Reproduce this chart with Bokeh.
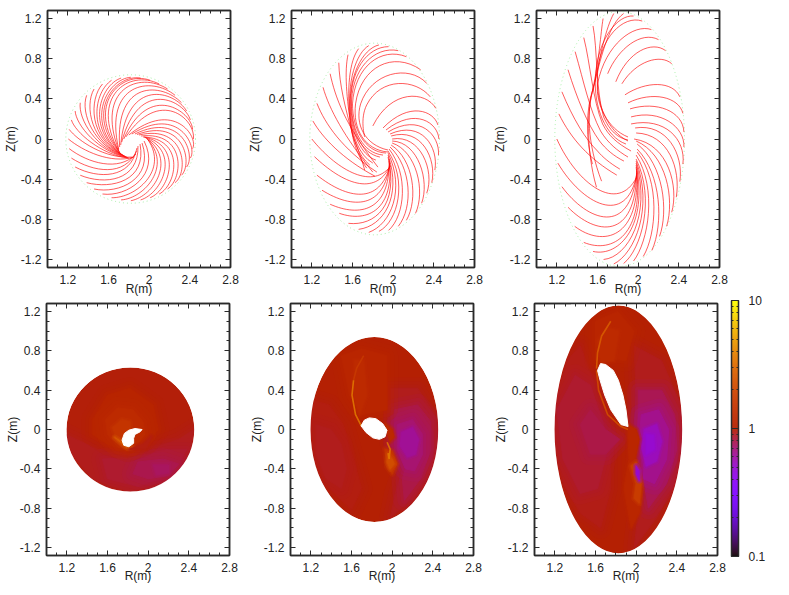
import numpy as np
from bokeh.plotting import figure
from bokeh.layouts import row, column
from bokeh.models import (Range1d, FixedTicker, LinearAxis, LogAxis, LogColorMapper,
                          ColumnDataSource, CustomLabelingPolicy, BasicTickFormatter)
from bokeh.embed import file_html
from bokeh.resources import INLINE

R_TICKS = [1.2, 1.6, 2.0, 2.4, 2.8]
R_LABELS = {1.2: "1.2", 1.6: "1.6", 2.0: "2", 2.4: "2.4", 2.8: "2.8"}
Z_TICKS = [-1.2, -0.8, -0.4, 0, 0.4, 0.8, 1.2]
Z_LABELS = {-1.2: "-1.2", -0.8: "-0.8", -0.4: "-0.4", 0: "0", 0.4: "0.4", 0.8: "0.8", 1.2: "1.2"}
R_MINOR = [1.1, 1.3, 1.4, 1.5, 1.7, 1.8, 1.9, 2.1, 2.2, 2.3, 2.5, 2.6, 2.7]
Z_MINOR = [-1.1, -1.0, -0.9, -0.7, -0.6, -0.5, -0.3, -0.2, -0.1, 0.1, 0.2, 0.3, 0.5, 0.6, 0.7, 0.9, 1.0, 1.1]
CBAR_TICKS = [0.1, 1, 10]
CBAR_MINOR = [0.2, 0.3, 0.4, 0.5, 0.6, 0.7, 0.8, 0.9, 2, 3, 4, 5, 6, 7, 8, 9]

BOUNDARY_R0 = 1.818
BOUNDARY_A = 0.638
BOUNDARY_B = [0.64, 0.955, 1.27]
SURFACE_R0 = 1.825
SURFACE_A = 0.628
SURFACE_B = [0.63, 0.94, 1.26]

# field lines: start R,Z  control R,Z  control R,Z  end R,Z
FIELD1 = [
 [1.205,0,1.35,-.12,1.62,-.25,1.85,-.18],[1.213,-.096,1.40,-.24,1.70,-.33,1.87,-.15],
 [1.235,-.19,1.45,-.33,1.76,-.38,1.875,-.12],[1.272,-.279,1.50,-.40,1.82,-.40,1.88,-.09],
 [1.322,-.361,1.56,-.46,1.90,-.42,1.89,-.07],[1.385,-.435,1.63,-.50,1.98,-.42,1.91,-.05],
 [1.458,-.498,1.70,-.55,2.05,-.40,1.93,-.04],[1.541,-.548,1.78,-.58,2.12,-.36,1.95,-.02],
 [1.63,-.585,1.87,-.59,2.19,-.31,1.99,-.01],[1.724,-.607,1.96,-.59,2.23,-.26,1.98,0],
 [1.82,-.615,2.05,-.57,2.27,-.20,1.97,.01],[1.916,-.607,2.13,-.54,2.31,-.13,1.96,.015],
 [2.01,-.585,2.21,-.50,2.33,-.06,1.95,.02],[2.099,-.548,2.28,-.45,2.35,.01,1.94,.02],
 [2.181,-.498,2.34,-.39,2.36,.08,1.92,.03],[2.255,-.435,2.39,-.33,2.36,.15,1.90,.04],
 [2.318,-.361,2.43,-.25,2.35,.22,1.88,.045],[2.368,-.279,2.46,-.17,2.33,.28,1.86,.05],
 [2.405,-.19,2.48,-.08,2.29,.34,1.83,.05],[2.427,-.096,2.49,.02,2.24,.40,1.80,.04],
 [2.435,0,2.46,.20,2.10,.52,1.77,.02],[2.427,.096,2.42,.27,2.00,.58,1.75,.0],
 [2.405,.19,2.35,.38,1.90,.62,1.73,-.03],[2.368,.279,2.25,.48,1.78,.62,1.72,-.06],
 [2.318,.361,2.13,.56,1.66,.60,1.71,-.08],[2.255,.435,2.02,.63,1.55,.56,1.70,-.10],
 [2.181,.498,1.90,.68,1.47,.50,1.70,-.11],[2.099,.548,1.80,.70,1.41,.42,1.70,-.12],
 [2.01,.585,1.72,.69,1.37,.33,1.71,-.13],[1.916,.607,1.66,.65,1.36,.26,1.715,-.14],
 [1.82,.615,1.59,.60,1.36,.18,1.72,-.15],[1.724,.607,1.52,.54,1.37,.11,1.73,-.155],
 [1.63,.585,1.46,.47,1.38,.05,1.74,-.16],[1.541,.548,1.41,.40,1.40,.0,1.75,-.165],
 [1.458,.498,1.36,.33,1.43,-.05,1.76,-.17],[1.385,.435,1.32,.26,1.46,-.08,1.77,-.175],
 [1.322,.361,1.30,.20,1.48,-.11,1.78,-.18],[1.272,.279,1.28,.14,1.50,-.13,1.79,-.185],
 [1.235,.19,1.27,.07,1.53,-.16,1.80,-.19],[1.213,.096,1.30,-.02,1.57,-.20,1.83,-.18],
]
FIELD2 = [
 [1.20,0,1.42,-.28,1.78,-.52,1.97,-.275],[1.226,-.176,1.50,-.44,1.82,-.58,1.97,-.27],
 [1.25,-.36,1.55,-.60,1.87,-.66,1.97,-.26],[1.30,-.51,1.60,-.70,1.92,-.70,1.965,-.24],
 [1.38,-.65,1.67,-.78,1.97,-.72,1.96,-.22],[1.47,-.74,1.75,-.84,2.02,-.70,1.96,-.20],
 [1.56,-.84,1.82,-.87,2.06,-.66,1.95,-.18],[1.66,-.90,1.90,-.87,2.09,-.58,1.95,-.16],
 [1.76,-.93,1.98,-.85,2.12,-.50,1.95,-.14],[1.86,-.92,2.05,-.82,2.14,-.42,1.95,-.12],
 [1.955,-.91,2.12,-.76,2.15,-.35,1.96,-.10],[2.05,-.87,2.20,-.68,2.18,-.28,1.97,-.08],
 [2.13,-.81,2.25,-.60,2.20,-.20,1.98,-.06],[2.22,-.74,2.32,-.52,2.23,-.12,1.99,-.04],
 [2.28,-.64,2.36,-.42,2.25,-.03,1.99,-.02],[2.33,-.54,2.41,-.32,2.27,.05,1.99,.0],
 [2.38,-.435,2.43,-.2,2.28,.12,1.98,.03],[2.41,-.31,2.45,-.08,2.28,.19,1.97,.05],
 [2.446,-.16,2.46,.04,2.26,.26,1.95,.07],[2.45,0,2.44,.16,2.22,.32,1.93,.09],
 [2.44,.14,2.40,.28,2.16,.38,1.90,.11],[2.42,.305,2.32,.48,1.98,.50,1.80,.13],
 [2.365,.42,2.22,.60,1.88,.62,1.74,.34],[1.74,.34,1.67,.20,1.72,.02,1.72,.02],
 [2.33,.555,2.15,.75,1.78,.66,1.68,.35],[1.68,.35,1.62,.15,1.72,-.06,1.95,-.11],
 [2.27,.69,2.00,.88,1.68,.72,1.63,.35],[1.63,.35,1.60,.10,1.72,-.11,1.95,-.13],
 [2.13,.82,1.88,.92,1.62,.72,1.60,.35],[1.60,.35,1.60,.10,1.72,-.13,1.93,-.14],
 [2.05,.88,1.82,.93,1.58,.70,1.59,.32],[1.59,.32,1.60,.08,1.70,-.14,1.90,-.16],
 [1.955,.92,1.75,.92,1.56,.68,1.585,.30],[1.585,.30,1.60,.08,1.68,-.14,1.87,-.18],
 [1.86,.937,1.70,.90,1.55,.62,1.58,.26],[1.58,.26,1.60,.06,1.68,-.16,1.83,-.21],
 [1.76,.93,1.64,.86,1.54,.58,1.58,.20],[1.58,.20,1.60,.04,1.66,-.16,1.80,-.24],
 [1.66,.90,1.57,.78,1.54,.50,1.58,.15],[1.58,.15,1.60,.02,1.65,-.16,1.77,-.26],
 [1.556,.84,1.52,.68,1.54,.40,1.59,.10],[1.59,.10,1.60,.00,1.64,-.16,1.74,-.29],
 [1.465,.76,1.47,.55,1.53,.30,1.60,.05],[1.60,.05,1.63,-.05,1.68,-.16,1.72,-.31],
 [1.38,.65,1.43,.42,1.52,.15,1.85,-.28],[1.31,.515,1.37,.30,1.52,.02,1.80,-.33],
 [1.25,.355,1.33,.15,1.50,-.10,1.84,-.33],[1.21,.18,1.30,.02,1.50,-.20,1.82,-.37],
]
FIELD3 = [
 [1.20,0,1.40,-.45,1.80,-.75,1.985,-.38],[1.21,-.24,1.45,-.65,1.88,-.88,1.985,-.36],
 [1.25,-.475,1.50,-.82,1.92,-.98,1.985,-.34],[1.31,-.68,1.58,-.96,1.98,-1.02,1.985,-.32],
 [1.376,-.87,1.65,-1.08,2.03,-1.0,1.985,-.30],[1.465,-1.03,1.75,-1.15,2.07,-.95,1.98,-.28],
 [1.556,-1.12,1.82,-1.18,2.10,-.85,1.98,-.26],[1.66,-1.20,1.90,-1.18,2.13,-.75,1.98,-.24],
 [1.76,-1.245,1.97,-1.14,2.15,-.68,1.98,-.22],[1.857,-1.24,2.03,-1.10,2.17,-.60,1.98,-.20],
 [1.955,-1.215,2.10,-1.02,2.19,-.50,1.98,-.16],[2.05,-1.17,2.18,-.95,2.22,-.42,1.99,-.13],
 [2.135,-1.11,2.25,-.85,2.23,-.35,1.99,-.10],[2.21,-.97,2.30,-.72,2.25,-.25,1.99,-.05],
 [2.28,-.87,2.36,-.60,2.28,-.15,1.98,-.02],[2.33,-.73,2.40,-.48,2.30,-.05,1.96,.0],
 [2.375,-.58,2.42,-.30,2.30,.05,1.98,.06],[2.41,-.425,2.45,-.15,2.28,.16,1.97,.11],
 [2.44,-.25,2.47,0,2.26,.22,1.93,.15],[2.45,-.08,2.46,.12,2.22,.30,1.93,.22],
 [2.45,.07,2.44,.28,2.18,.38,1.92,.30],[2.44,.255,2.40,.42,2.14,.48,1.90,.36],
 [2.41,.42,2.34,.58,2.08,.58,1.87,.44],[2.33,.75,2.22,.85,1.98,.78,1.84,.55],
 [2.27,.88,2.14,.98,1.90,.88,1.78,.57],[2.20,.99,2.03,1.08,1.80,.90,1.70,.65],
 [2.13,1.09,1.96,1.15,1.68,.95,1.60,.55],[1.60,.55,1.58,.35,1.70,.10,1.90,.02],
 [2.04,1.175,1.85,1.24,1.62,1.0,1.60,.65],[1.60,.65,1.58,.35,1.70,.08,1.90,-.02],
 [1.955,1.225,1.80,1.24,1.60,1.0,1.58,.62],[1.58,.62,1.56,.32,1.68,.02,1.88,-.05],
 [1.857,1.25,1.72,1.15,1.64,.85,1.57,.55],[1.57,.55,1.50,.35,1.48,-.1,1.59,-.48],
 [1.76,1.25,1.68,1.10,1.63,.85,1.56,.50],[1.56,.50,1.49,.30,1.50,-.05,1.64,-.42],
 [1.655,1.20,1.63,1.05,1.62,.80,1.55,.48],[1.55,.48,1.49,.30,1.48,.0,1.55,-.25],
 [1.556,1.126,1.60,.90,1.58,.50,1.66,.22],[1.66,.22,1.72,.08,1.80,.01,1.90,-.01],
 [1.465,1.01,1.53,.75,1.55,.40,1.65,.15],[1.65,.15,1.71,.03,1.79,-.04,1.93,-.12],
 [1.38,.87,1.47,.55,1.52,.30,1.63,.08],[1.63,.08,1.70,-.04,1.80,-.12,1.90,-.18],
 [1.31,.69,1.40,.40,1.50,.15,1.62,-.02],[1.62,-.02,1.68,-.10,1.76,-.17,1.86,-.22],
 [1.25,.47,1.36,.20,1.48,.0,1.60,-.12],[1.60,-.12,1.65,-.18,1.72,-.24,1.82,-.30],
 [1.22,.25,1.34,0,1.52,-.20,1.79,-.36],
]

# surface regions: level, R outline, Z outline
BASE_LEVELS = [0.98, 1.0, 1.0]
SURF1_LEVELS = [.93, .87, .80, .76, 1.1, 1.25, 1.5, 2.5, .95]
SURF1_R = [[1.19,1.5,1.9,2.3,2.45,2.4,2.2,1.82,1.45,1.25],[1.55,1.85,2.2,2.38,2.25,1.9,1.6],
           [1.9,2.15,2.3,2.2,2.0,1.85],[2.05,2.2,2.2,2.08],
           [1.45,1.6,1.82,2.05,2.1,1.98,1.8,1.6,1.45],[1.58,1.7,1.85,1.95,1.97,1.85,1.7,1.6],
           [1.65,1.74,1.82,1.83,1.77,1.70],[1.67,1.75,1.80,1.85,1.78],[1.82,1.95,2.03,1.98]]
SURF1_Z = [[-.05,-.2,-.25,-.1,0,-.25,-.5,-.63,-.5,-.25],[-.3,-.28,-.2,-.2,-.45,-.58,-.5],
           [-.33,-.3,-.35,-.47,-.5,-.45],[-.36,-.36,-.44,-.46],
           [.1,.35,.42,.25,.0,-.15,-.22,-.15,-.05],[.1,.22,.2,.08,-.05,-.2,-.18,-.05],
           [.02,.1,.08,-.1,-.18,-.12],[-.08,-.15,-.19,-.18,-.15],[-.2,-.15,-.07,-.2]]
HOLE1_R = [1.743,1.766,1.81,1.87,1.94,1.92,1.87,1.857,1.857,1.81,1.76]
HOLE1_Z = [-.108,-.04,-.007,.01,0,-.024,-.05,-.09,-.14,-.175,-.16]

SURF2_LEVELS = [.96, .92, .92, .82, .72, .63, 1.12, 1.25, 1.2, 1.5, 2.2]
SURF2_R = [[1.22,1.38,1.52,1.62,1.7,1.6,1.4,1.25,1.195],[1.25,1.4,1.5,1.55,1.5,1.35,1.25],
           [1.98,2.25,2.42,2.45,2.38,2.22,1.98,2.03,2.10,1.98,1.98],
           [2.02,2.25,2.38,2.38,2.28,2.12,2.1,2.13,2.02],[2.05,2.2,2.3,2.3,2.22,2.13,2.05],
           [2.09,2.2,2.26,2.23,2.15,2.08],[1.5,1.7,1.95,1.95,1.7,1.58],[1.63,1.72,1.75,1.68,1.62],
           [1.93,2.0,2.02,1.98,1.95],[1.93,2.0,2.05,2.0,1.95],[1.96,2.0,2.02,1.98,1.95]]
SURF2_Z = [[.3,.25,.05,-.3,-.6,-.82,-.62,-.35,0],[.05,0,-.15,-.4,-.6,-.5,-.25],
           [.42,.42,.15,-.1,-.42,-.68,-.90,-.65,-.42,-.12,.15],
           [.2,.25,.08,-.2,-.5,-.72,-.5,-.4,-.15],[.05,.1,-.05,-.25,-.42,-.4,-.2],
           [-.03,.02,-.1,-.25,-.28,-.17],[.75,.82,.75,.2,.15,.35],[.7,.7,.35,.15,.35],
           [.06,.0,-.08,-.12,-.03],[-.2,-.22,-.35,-.45,-.38],[-.25,-.3,-.35,-.40,-.33]]
STREAK2_R = [[1.72,1.65,1.62],[1.62,1.605,1.64,1.70],[1.95,1.98,1.97,1.96]]
STREAK2_Z = [[.75,.62,.5],[.5,.35,.15,.03],[-.13,-.2,-.3,-.24]]
STREAK2_LEVELS = [1.6, 3.5, 3.5]
HOLE2_R = [1.694,1.726,1.775,1.84,1.906,1.949,1.93,1.874,1.81,1.743]
HOLE2_Z = [.037,.095,.118,.11,.06,-.007,-.074,-.10,-.085,-.03]

SURF3_LEVELS = [.94, .88, .82, .92, .78, .65, .55, .5, 1.12, 1.25, 1.15, 1.7, .5]
SURF3_R = [[1.32,1.45,1.58,1.65,1.75,1.75,1.65,1.45,1.28,1.20,1.21],[1.22,1.40,1.55,1.68,1.72,1.62,1.45,1.28],
           [1.45,1.55,1.7,1.84,1.7,1.55],[1.98,2.25,2.42,2.45,2.38,2.2,1.98,2.02,2.05,2.02,1.98,2.0],
           [2.02,2.25,2.38,2.4,2.3,2.12,2.08,2.05,2.02],[2.05,2.22,2.32,2.3,2.18,2.07,2.08,2.03],
           [2.08,2.2,2.25,2.2,2.1,2.06],[2.1,2.17,2.18,2.1],[1.6,1.82,1.98,1.9,1.72,1.6],
           [1.62,1.72,1.83,1.78,1.65],[1.92,2.0,2.03,1.98,2.06,2.03,1.95,1.88,1.93,1.92],
           [1.95,2.0,2.05,2.03,1.98,2.0],[2.0,2.03,2.03,2.0]]
SURF3_Z = [[.7,.85,.5,.15,-.25,-.6,-1.0,-.85,-.55,-.1,.3],[.2,.55,.45,.05,-.2,-.6,-.65,-.3],
           [.05,.2,.0,-.1,-.25,-.25],[.85,.7,.3,-.1,-.55,-.9,-1.2,-.85,-.55,-.3,.05,.35],
           [.4,.4,.15,-.2,-.55,-.8,-.55,-.3,-.05],[.15,.2,.0,-.3,-.55,-.5,-.3,-.1],
           [.0,.05,-.12,-.32,-.37,-.2],[-.05,-.06,-.2,-.25],[1.1,1.2,1.0,.7,.72,.7],
           [.9,1.03,1.0,.7,.68],[.05,.0,-.1,-.35,-.6,-.85,-1.0,-.6,-.3,-.1],
           [-.37,-.33,-.55,-.75,-.70,-.55],[-.37,-.42,-.52,-.45]]
STREAK3_R = [[1.75,1.66,1.62,1.61],[1.61,1.63,1.72,1.85,1.92]]
STREAK3_Z = [[1.1,.95,.78,.62],[.6,.4,.15,.03,.0]]
STREAK3_LEVELS = [2.6, 2.2]
HOLE3_R = [1.62,1.65,1.70,1.775,1.825,1.87,1.90,1.92,1.85,1.75,1.69,1.645]
HOLE3_Z = [.6,.67,.66,.6,.5,.35,.2,.03,.05,.2,.35,.5]

DARK = "#2a2a2a"
TEXT = "#222222"
FONT = "Liberation Sans"
FEATHER = [(22, 0.18), (14, 0.22), (7, 0.3)]
FEATHER_SMALL = [(6, 0.3), (3, 0.4)]

x = np.linspace(0, 1, 256)
rgb = np.stack([np.sqrt(x), x ** 3, np.clip(np.sin(2 * np.pi * x), 0, 1)], axis=1)
PALETTE = ["#%02x%02x%02x" % tuple(int(round(c * 255)) for c in v) for v in rgb]
mapper = LogColorMapper(palette=PALETTE, low=0.1, high=10)
mapped = {"field": "v", "transform": mapper}
NO_LABELS = CustomLabelingPolicy(code="return []")


def style(ax):
    ax.axis_line_color = DARK
    ax.axis_line_width = 1.5
    ax.major_tick_line_color = DARK
    ax.minor_tick_line_color = DARK
    ax.major_tick_in = 5
    ax.major_tick_out = 0
    ax.minor_tick_in = 3
    ax.minor_tick_out = 0


def make_panel(top, left, frame_h, bottom, right, z_standoff, r_standoff):
    p = figure(frame_width=183, frame_height=frame_h, x_range=Range1d(1.0, 2.8), y_range=Range1d(-1.28, 1.28),
               min_border_left=left, min_border_right=right, min_border_top=top, min_border_bottom=bottom,
               output_backend="svg", toolbar_location=None, background_fill_color="white")
    p.grid.visible = False
    p.outline_line_color = DARK
    p.outline_line_width = 1.5
    for ax, tk, mn, lb, name, off in ((p.xaxis[0], R_TICKS, R_MINOR, R_LABELS, "R(m)", r_standoff),
                                      (p.yaxis[0], Z_TICKS, Z_MINOR, Z_LABELS, "Z(m)", z_standoff)):
        ax.ticker = FixedTicker(ticks=tk, minor_ticks=mn)
        ax.major_label_overrides = lb
        style(ax)
        ax.major_label_text_font = FONT
        ax.major_label_text_font_size = "12px"
        ax.major_label_text_color = TEXT
        ax.axis_label = name
        ax.axis_label_standoff = off
        ax.axis_label_text_font = FONT
        ax.axis_label_text_font_size = "12px"
        ax.axis_label_text_font_style = "normal"
        ax.axis_label_text_color = TEXT
    p.xaxis[0].major_label_standoff = 7
    p.yaxis[0].major_label_standoff = 6
    for loc, tk, mn in (("above", R_TICKS, R_MINOR), ("right", Z_TICKS, Z_MINOR)):
        ax = LinearAxis(ticker=FixedTicker(ticks=tk, minor_ticks=mn), major_label_text_font_size="1px",
                        major_label_standoff=0, major_label_policy=NO_LABELS)
        style(ax)
        p.add_layout(ax, loc)
    return p


def field_panel(p, rows, b):
    p.ellipse(x=[BOUNDARY_R0], y=[0], width=[2 * BOUNDARY_A], height=[2 * b], fill_color=None,
              line_color="#a6f0a6", line_dash="1 3", line_width=1)
    c = list(zip(*rows))
    p.bezier(x0=c[0], y0=c[1], cx0=c[2], cy0=c[3], cx1=c[4], cy1=c[5], x1=c[6], y1=c[7],
             line_color="#ff0000", line_width=0.8, line_alpha=0.8)


def surf_panel(p, b, base, levels, rr, zz, hole_r, hole_z, streak_r=None, streak_z=None, streak_v=None):
    p.ellipse(source=ColumnDataSource(dict(x=[SURFACE_R0], y=[0], w=[2 * SURFACE_A], h=[2 * b], v=[base])),
              x="x", y="y", width="w", height="h", fill_color=mapped, line_color=None)
    for i in range(len(levels)):
        src = ColumnDataSource(dict(xs=[rr[i]], ys=[zz[i]], v=[levels[i]]))
        small = max(rr[i]) - min(rr[i]) < 0.22
        for w, a in (FEATHER_SMALL if small else FEATHER):
            p.patches(source=src, xs="xs", ys="ys", fill_color=None, line_color=mapped, line_width=w,
                      line_alpha=a, line_join="round")
        p.patches(source=src, xs="xs", ys="ys", fill_color=mapped, line_color=mapped, line_width=1, line_join="round")
    if streak_r:
        p.multi_line(source=ColumnDataSource(dict(xs=streak_r, ys=streak_z, v=streak_v)), xs="xs", ys="ys",
                     line_color=mapped, line_width=1.6, line_alpha=0.9)
    # clean the rim: anything feathered past the surface is covered by a white ring
    p.ellipse(x=[SURFACE_R0], y=[0], width=[2 * (SURFACE_A + 0.118)], height=[2 * (b + 0.121)], fill_color=None,
              line_color="white", line_width=24)
    p.patch(hole_r, hole_z, fill_color="white", line_color="white")


p1 = make_panel(10, 46, 257, 30, 14, 0, -5)
p2 = make_panel(10, 46, 257, 30, 15, 0, -5)
p3 = make_panel(10, 46, 257, 30, 9, 0, -5)
field_panel(p1, FIELD1, BOUNDARY_B[0])
field_panel(p2, FIELD2, BOUNDARY_B[1])
field_panel(p3, FIELD3, BOUNDARY_B[2])

p4 = make_panel(5, 46, 252, 31, 17, -3, -6)
p5 = make_panel(5, 43, 252, 31, 17, -3, -6)
p6 = make_panel(5, 44, 252, 31, 9, -3, -6)
surf_panel(p4, SURFACE_B[0], BASE_LEVELS[0], SURF1_LEVELS, SURF1_R, SURF1_Z, HOLE1_R, HOLE1_Z)
surf_panel(p5, SURFACE_B[1], BASE_LEVELS[1], SURF2_LEVELS, SURF2_R, SURF2_Z, HOLE2_R, HOLE2_Z, STREAK2_R, STREAK2_Z, STREAK2_LEVELS)
surf_panel(p6, SURFACE_B[2], BASE_LEVELS[2], SURF3_LEVELS, SURF3_R, SURF3_Z, HOLE3_R, HOLE3_Z, STREAK3_R, STREAK3_Z, STREAK3_LEVELS)

# colour key
edges = np.logspace(-1, 1, 257)
cb = figure(frame_width=7, frame_height=256, x_range=Range1d(0, 1), y_range=Range1d(0.1, 10), y_axis_type="log",
            x_axis_type=None, y_axis_location="right", min_border_left=5, min_border_right=40,
            min_border_top=1, min_border_bottom=28, output_backend="svg", toolbar_location=None,
            margin=(-3, 0, 3, 0))
cb.grid.visible = False
cb.outline_line_color = "#111111"
cb.outline_line_width = 1
cb.quad(left=0, right=1, bottom=edges[:-1], top=edges[1:], fill_color=PALETTE, line_color=PALETTE, line_width=0.5)
ax = cb.yaxis[0]
ax.ticker = FixedTicker(ticks=CBAR_TICKS, minor_ticks=CBAR_MINOR)
ax.formatter = BasicTickFormatter()
style(ax)
ax.major_tick_in = 7
ax.minor_tick_in = 2
ax.major_label_standoff = 10
ax.major_label_text_font = FONT
ax.major_label_text_font_size = "12px"
ax.major_label_text_color = TEXT
ax2 = LogAxis(ticker=FixedTicker(ticks=CBAR_TICKS, minor_ticks=CBAR_MINOR), formatter=BasicTickFormatter(),
              major_label_text_font_size="1px", major_label_standoff=0, major_label_policy=NO_LABELS)
style(ax2)
ax2.major_tick_in = 7
ax2.minor_tick_in = 2
cb.add_layout(ax2, "left")

layout = column(row(p1, p2, p3), row(p4, p5, p6, cb))
open("out.html", "w").write(file_html(layout, INLINE))
